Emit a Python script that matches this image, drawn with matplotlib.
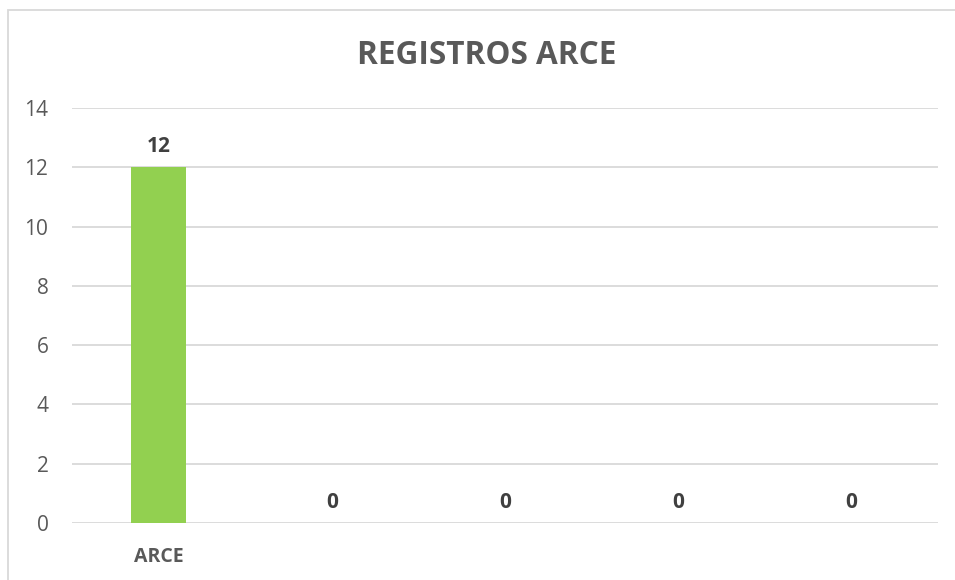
import matplotlib
matplotlib.use("Agg")
import matplotlib.pyplot as plt
from matplotlib.patches import Rectangle

categories = ["ARCE", "", "", "", ""]
values = [12, 0, 0, 0, 0]
yticks = [0, 2, 4, 6, 8, 10, 12, 14]
title = "REGISTROS ARCE"

plt.rcParams['font.family'] = ['Open Sans', 'DejaVu Sans']

fig = plt.figure(figsize=(9.55, 5.8), dpi=100)
fig.patches.append(Rectangle((8/955, -0.1), 1.2, 1.1 - 10/580, transform=fig.transFigure,
                             fill=False, edgecolor='#D9D9D9', linewidth=1.3))
ax = fig.add_axes([72/955, 1 - 523/580, (938 - 72)/955, (523 - 108)/580])

x = list(range(len(categories)))
ax.bar(x, values, width=0.32, color='#92D050', zorder=3)
for xi, v in zip(x, values):
    ax.text(xi, v + 0.35, str(v), ha='center', va='bottom', fontsize=15,
            fontweight='bold', color='#404040')

ax.set_xlim(-0.5, len(categories) - 0.5)
ax.set_ylim(0, 14)
ax.set_yticks(yticks)
ax.set_yticklabels([str(t) for t in yticks], fontsize=15, color='#595959')
ax.set_xticks(x)
ax.set_xticklabels(categories, fontsize=14, fontweight='bold', color='#595959')
ax.tick_params(axis='both', length=0)
ax.tick_params(axis='y', pad=17)
ax.tick_params(axis='x', pad=17)
ax.grid(axis='y', color='#D9D9D9', linewidth=1.3, zorder=0)
for s in ax.spines.values():
    s.set_visible(False)

fig.text(487/955, 1 - 56/580, title, ha='center', va='center', fontsize=22.7,
         fontweight='bold', color='#595959')

fig.savefig("out.png", dpi=100)
